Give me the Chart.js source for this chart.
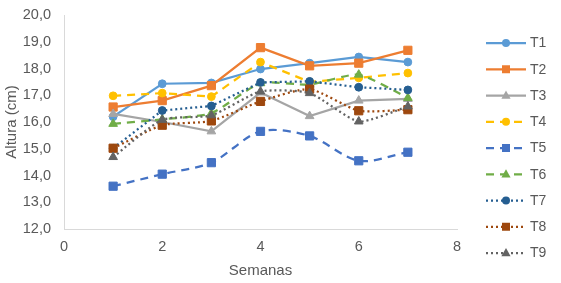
<!DOCTYPE html>
<html><head><meta charset="utf-8">
<script src="https://cdn.jsdelivr.net/npm/chart.js@4/dist/chart.umd.min.js"></script>
<style>html,body{margin:0;padding:0;background:#fff;}canvas{display:block;}</style>
</head><body>
<canvas id="c" width="561" height="283"></canvas>
<script>
const weeks = [1, 2, 3, 4, 5, 6, 7];
const seriesNames = ['T1','T2','T3','T4','T5','T6','T7','T8','T9'];
const T1 = [16.2, 17.43, 17.46, 17.98, 18.2, 18.43, 18.24];
const T2 = [16.56, 16.8, 17.36, 18.78, 18.1, 18.2, 18.68];
const T3 = [16.3, 16.0, 15.65, 17.1, 16.22, 16.8, 16.86];
const T4 = [16.98, 17.08, 16.95, 18.24, 17.5, 17.65, 17.83];
const T5 = [13.6, 14.05, 14.48, 15.65, 15.48, 14.55, 14.87];
const T6 = [15.93, 16.1, 16.33, 17.45, 17.4, 17.77, 16.9];
const T7 = [15.02, 16.43, 16.6, 17.48, 17.52, 17.3, 17.2];
const T8 = [15.02, 15.88, 16.04, 16.77, 17.23, 16.42, 16.46];
const T9 = [14.69, 16.08, 16.25, 17.14, 17.08, 16.02, 16.58];
const yTicks = [12,13,14,15,16,17,18,19,20];
const xTicks = [0,2,4,6,8];

const allValues = [T1,T2,T3,T4,T5,T6,T7,T8,T9];
const colors = ['#5B9BD5','#ED7D31','#A5A5A5','#FFC000','#4472C4','#70AD47','#255E91','#9E480E','#636363'];
const shapes = ['circle','rect','triangle','circle','rect','triangle','circle','rect','triangle'];
const dashes = [[],[],[],[8,6],[8,6],[8,6],[2,3],[2,3],[2,3]];
const tensions = [0,0,0,0,0.3,0.2,0,0.2,0.2];
const radii = {circle: 3.9, rect: 5.8, triangle: 5};
const FONT = '"Liberation Sans", Arial, sans-serif';

const datasets = allValues.map((vals, i) => ({
  label: seriesNames[i],
  data: weeks.map((w, j) => ({x: w, y: vals[j]})),
  borderColor: colors[i],
  backgroundColor: colors[i],
  borderWidth: 2.25,
  borderDash: dashes[i],
  pointStyle: shapes[i],
  pointRadius: radii[shapes[i]],
  pointBorderWidth: 1,
  tension: tensions[i],
  order: allValues.length - i,
  fill: false
}));

function drawMarker(ctx, shape, x, y, color) {
  ctx.save();
  ctx.setLineDash([]);
  ctx.fillStyle = color;
  ctx.beginPath();
  if (shape === 'circle') {
    ctx.arc(x, y, 4.0, 0, Math.PI * 2);
  } else if (shape === 'rect') {
    ctx.rect(x - 4, y - 4, 8, 8);
  } else {
    ctx.moveTo(x, y - 5);
    ctx.lineTo(x + 4.6, y + 3.2);
    ctx.lineTo(x - 4.6, y + 3.2);
    ctx.closePath();
  }
  ctx.fill();
  ctx.restore();
}

const legendPlugin = {
  id: 'customLegend',
  afterDraw(chart) {
    const ctx = chart.ctx;
    ctx.save();
    seriesNames.forEach((name, i) => {
      const y = 43 + i * 26.25;
      ctx.strokeStyle = colors[i];
      ctx.lineWidth = 2.25;
      ctx.setLineDash(dashes[i]);
      ctx.beginPath();
      ctx.moveTo(486, y);
      ctx.lineTo(526, y);
      ctx.stroke();
      drawMarker(ctx, shapes[i], 506, y, colors[i]);
      ctx.setLineDash([]);
      ctx.fillStyle = '#595959';
      ctx.font = '14px ' + FONT;
      ctx.textAlign = 'left';
      ctx.textBaseline = 'middle';
      ctx.fillText(name, 530, y + 0.5);
    });
    ctx.restore();
  }
};

new Chart(document.getElementById('c'), {
  type: 'line',
  data: { datasets },
  options: {
    responsive: false,
    devicePixelRatio: 1,
    animation: false,
    layout: { padding: { top: 15, right: 104, left: 0, bottom: 0 } },
    plugins: { legend: { display: false }, tooltip: { enabled: false } },
    scales: {
      x: {
        type: 'linear', min: 0, max: 8,
        afterBuildTicks: s => { s.ticks = xTicks.map(v => ({value: v})); },
        ticks: { color: '#595959', font: { family: FONT, size: 14.5 }, padding: 1, maxRotation: 0 },
        grid: { display: false },
        border: { display: true, color: '#D9D9D9', width: 1 },
        title: { display: true, text: 'Semanas', color: '#595959', font: { family: FONT, size: 15 }, padding: { top: 4, bottom: 3 } },
        afterFit: s => { s.height = 54; }
      },
      y: {
        type: 'linear', min: 12, max: 20,
        afterBuildTicks: s => { s.ticks = yTicks.map(v => ({value: v})); },
        ticks: { color: '#595959', font: { family: FONT, size: 14.5 }, padding: 5,
          callback: v => v.toFixed(1).replace('.', ',') },
        grid: { display: false },
        border: { display: true, color: '#D9D9D9', width: 1 },
        title: { display: true, text: 'Altura (cm)', color: '#595959', font: { family: FONT, size: 15 }, padding: { top: 3, bottom: 4 } },
        afterFit: s => { s.width = 64; }
      }
    }
  },
  plugins: [legendPlugin]
});
</script>
</body></html>
